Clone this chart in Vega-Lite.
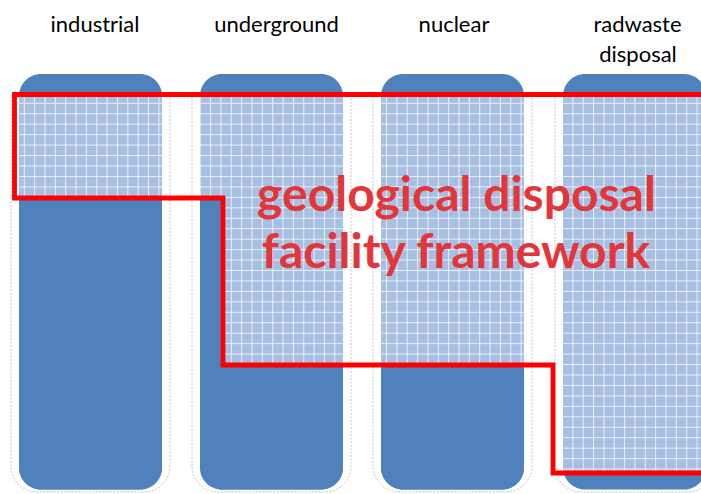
{
  "$schema": "https://vega.github.io/schema/vega-lite/v6.json",
  "width": 701,
  "height": 494,
  "autosize": "none",
  "padding": 0,
  "background": "white",
  "config": {"view": {"stroke": null}},
  "datasets": {
    "columns": [
      {"col": "industrial", "x1": 19, "x2": 162, "y1": 74, "y2": 489.5},
      {"col": "underground", "x1": 200, "x2": 343, "y1": 74, "y2": 489.5},
      {"col": "nuclear", "x1": 381, "x2": 524, "y1": 74, "y2": 489.5},
      {"col": "radwaste disposal", "x1": 563, "x2": 706, "y1": 74, "y2": 489.5}
    ],
    "outlines": [
      {"col": "industrial", "x1": 11, "x2": 170, "y1": 96, "y2": 492},
      {"col": "underground", "x1": 192, "x2": 351, "y1": 96, "y2": 492},
      {"col": "nuclear", "x1": 373, "x2": 532, "y1": 96, "y2": 492},
      {"col": "radwaste disposal", "x1": 555, "x2": 714, "y1": 96, "y2": 492}
    ],
    "inside": [
      {"col": "industrial", "x1": 19, "x2": 162, "y1": 95, "y2": 198},
      {"col": "underground", "x1": 200, "x2": 343, "y1": 95, "y2": 198},
      {"col": "underground", "x1": 223, "x2": 343, "y1": 198, "y2": 365},
      {"col": "nuclear", "x1": 381, "x2": 524, "y1": 95, "y2": 365},
      {"col": "radwaste disposal", "x1": 563, "x2": 706, "y1": 95, "y2": 473}
    ],
    "outsideRounded": [
      {"col": "industrial", "x1": 19, "x2": 162, "y1": 198, "y2": 489.5},
      {"col": "underground", "x1": 200, "x2": 343, "y1": 365, "y2": 489.5},
      {"col": "nuclear", "x1": 381, "x2": 524, "y1": 365, "y2": 489.5}
    ],
    "outsideSquare": [
      {"col": "underground", "x1": 200, "x2": 223, "y1": 198, "y2": 366}
    ],
    "vgrid": [
      {"gx": 24.3}, {"gx": 34.65}, {"gx": 45.0}, {"gx": 55.35}, {"gx": 65.7}, {"gx": 76.05}, {"gx": 86.4}, {"gx": 96.75}, {"gx": 107.1}, {"gx": 117.45},
      {"gx": 127.8}, {"gx": 138.15}, {"gx": 148.5}, {"gx": 158.85}, {"gx": 169.2}, {"gx": 179.55}, {"gx": 189.9}, {"gx": 200.25}, {"gx": 210.6}, {"gx": 220.95},
      {"gx": 231.3}, {"gx": 241.65}, {"gx": 252.0}, {"gx": 262.35}, {"gx": 272.7}, {"gx": 283.05}, {"gx": 293.4}, {"gx": 303.75}, {"gx": 314.1}, {"gx": 324.45},
      {"gx": 334.8}, {"gx": 345.15}, {"gx": 355.5}, {"gx": 365.85}, {"gx": 376.2}, {"gx": 386.55}, {"gx": 396.9}, {"gx": 407.25}, {"gx": 417.6}, {"gx": 427.95},
      {"gx": 438.3}, {"gx": 448.65}, {"gx": 459.0}, {"gx": 469.35}, {"gx": 479.7}, {"gx": 490.05}, {"gx": 500.4}, {"gx": 510.75}, {"gx": 521.1}, {"gx": 531.45},
      {"gx": 541.8}, {"gx": 552.15}, {"gx": 562.5}, {"gx": 572.85}, {"gx": 583.2}, {"gx": 593.55}, {"gx": 603.9}, {"gx": 614.25}, {"gx": 624.6}, {"gx": 634.95},
      {"gx": 645.3}, {"gx": 655.65}, {"gx": 666.0}, {"gx": 676.35}, {"gx": 686.7}, {"gx": 697.05}
    ],
    "hgrid": [
      {"gy": 103.3}, {"gy": 113.75}, {"gy": 124.2}, {"gy": 134.65}, {"gy": 145.1}, {"gy": 155.55}, {"gy": 166.0}, {"gy": 176.45}, {"gy": 186.9}, {"gy": 197.35},
      {"gy": 207.8}, {"gy": 218.25}, {"gy": 228.7}, {"gy": 239.15}, {"gy": 249.6}, {"gy": 260.05}, {"gy": 270.5}, {"gy": 280.95}, {"gy": 291.4}, {"gy": 301.85},
      {"gy": 312.3}, {"gy": 322.75}, {"gy": 333.2}, {"gy": 343.65}, {"gy": 354.1}, {"gy": 364.55}, {"gy": 375.0}, {"gy": 385.45}, {"gy": 395.9}, {"gy": 406.35},
      {"gy": 416.8}, {"gy": 427.25}, {"gy": 437.7}, {"gy": 448.15}, {"gy": 458.6}, {"gy": 469.05}
    ],
    "boundary": [
      {"o": 0, "px": 701, "py": 94.5},
      {"o": 1, "px": 14.5, "py": 94.5},
      {"o": 2, "px": 14.5, "py": 198},
      {"o": 3, "px": 223, "py": 198},
      {"o": 4, "px": 223, "py": 365},
      {"o": 5, "px": 553, "py": 365},
      {"o": 6, "px": 553, "py": 473},
      {"o": 7, "px": 701, "py": 473}
    ],
    "labels": [
      {"text": "industrial", "lx": 95, "ly": 31.5},
      {"text": "underground", "lx": 276.5, "ly": 31.5},
      {"text": "nuclear", "lx": 454, "ly": 31.5},
      {"text": "radwaste", "lx": 637.5, "ly": 31.5},
      {"text": "disposal", "lx": 638, "ly": 61.5}
    ],
    "title": [
      {"text": "geological disposal", "lx": 456.5, "ly": 211},
      {"text": "facility framework", "lx": 456, "ly": 268}
    ]
  },
  "layer": [
    {
      "data": {"name": "columns"},
      "mark": {"type": "rect", "fill": "#4F81BD", "cornerRadius": 22},
      "encoding": {
        "x": {"field": "x1", "type": "quantitative", "scale": {"domain": [0, 701], "nice": false, "zero": false}, "axis": null},
        "x2": {"field": "x2"},
        "y": {"field": "y1", "type": "quantitative", "scale": {"domain": [0, 494], "nice": false, "zero": false, "reverse": true}, "axis": null},
        "y2": {"field": "y2"}
      }
    },
    {
      "data": {"name": "inside"},
      "mark": {"type": "rect", "fill": "#A7BFE2"},
      "encoding": {
        "x": {"field": "x1", "type": "quantitative"},
        "x2": {"field": "x2"},
        "y": {"field": "y1", "type": "quantitative"},
        "y2": {"field": "y2"}
      }
    },
    {
      "data": {"name": "vgrid"},
      "mark": {"type": "rule", "stroke": "white", "strokeWidth": 1, "opacity": 0.75},
      "encoding": {
        "x": {"field": "gx", "type": "quantitative"},
        "y": {"datum": 96},
        "y2": {"datum": 473}
      }
    },
    {
      "data": {"name": "hgrid"},
      "mark": {"type": "rule", "stroke": "white", "strokeWidth": 1, "opacity": 0.75},
      "encoding": {
        "y": {"field": "gy", "type": "quantitative"},
        "x": {"datum": 19},
        "x2": {"datum": 701}
      }
    },
    {
      "data": {"name": "outsideRounded"},
      "mark": {"type": "rect", "fill": "#4F81BD", "cornerRadiusBottomLeft": 22, "cornerRadiusBottomRight": 22},
      "encoding": {
        "x": {"field": "x1", "type": "quantitative"},
        "x2": {"field": "x2"},
        "y": {"field": "y1", "type": "quantitative"},
        "y2": {"field": "y2"}
      }
    },
    {
      "data": {"name": "outsideSquare"},
      "mark": {"type": "rect", "fill": "#4F81BD"},
      "encoding": {
        "x": {"field": "x1", "type": "quantitative"},
        "x2": {"field": "x2"},
        "y": {"field": "y1", "type": "quantitative"},
        "y2": {"field": "y2"}
      }
    },
    {
      "data": {"name": "outlines"},
      "mark": {"type": "rect", "fill": null, "stroke": "#9a9a9a", "strokeWidth": 0.8, "strokeDash": [2, 1.5], "strokeOpacity": 0.7, "cornerRadiusBottomLeft": 26, "cornerRadiusBottomRight": 26},
      "encoding": {
        "x": {"field": "x1", "type": "quantitative"},
        "x2": {"field": "x2"},
        "y": {"field": "y1", "type": "quantitative"},
        "y2": {"field": "y2"}
      }
    },
    {
      "data": {"name": "boundary"},
      "mark": {"type": "line", "stroke": "#FF0000", "strokeWidth": 4.8, "strokeJoin": "miter", "strokeCap": "butt"},
      "encoding": {
        "x": {"field": "px", "type": "quantitative"},
        "y": {"field": "py", "type": "quantitative"},
        "order": {"field": "o", "type": "quantitative"}
      }
    },
    {
      "data": {"name": "labels"},
      "mark": {"type": "text", "font": "Lato", "fontSize": 22, "fill": "black", "align": "center", "baseline": "alphabetic"},
      "encoding": {
        "x": {"field": "lx", "type": "quantitative"},
        "y": {"field": "ly", "type": "quantitative"},
        "text": {"field": "text"}
      }
    },
    {
      "data": {"name": "title"},
      "mark": {"type": "text", "font": "Lato", "fontWeight": "bold", "fontSize": 48, "fill": "#E3363A", "align": "center", "baseline": "alphabetic"},
      "encoding": {
        "x": {"field": "lx", "type": "quantitative"},
        "y": {"field": "ly", "type": "quantitative"},
        "text": {"field": "text"}
      }
    }
  ]
}
